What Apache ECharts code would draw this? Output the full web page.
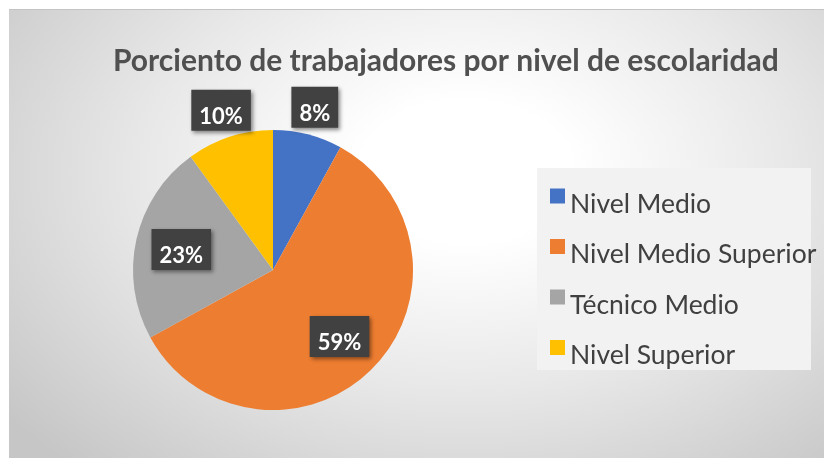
<!DOCTYPE html>
<html>
<head>
<meta charset="utf-8">
<script src="https://cdn.jsdelivr.net/npm/echarts@6/dist/echarts.min.js"></script>
<style>
    html, body { margin: 0; padding: 0; background: #fff; }
    #frame {
        position: absolute; left: 9px; top: 9px; width: 815px; height: 449px;
        border-top: 1px solid #c4c4c4;
        background: radial-gradient(ellipse 72% 88% at 56% 36%, #ffffff 0%, #ffffff 18%, #e8e8e8 55%, #c6c6c6 100%);
    }
    #main { position: absolute; left: 0; top: 0; width: 824px; height: 458px; }
</style>
</head>
<body>
<div id="frame"></div>
<div id="main"></div>
<script>
    // datos del grafico
    const titleText = 'Porciento de trabajadores por nivel de escolaridad';
    const categories = ['Nivel Medio', 'Nivel Medio Superior', 'Técnico Medio', 'Nivel Superior'];
    const percents = [8, 59, 23, 10];
    const colors = ['#4472C4', '#ED7D31', '#A5A5A5', '#FFC000'];

    const pieCenter = [273, 270];
    const pieRadius = 140;

    const chart = echarts.init(document.getElementById('main'), null, {renderer: 'canvas'});

    const option = {
        animation: false,
        color: colors,
        title: {
            text: titleText,
            left: 113,
            top: 46,
            padding: 0,
            textStyle: {
                fontFamily: 'Lato',
                fontSize: 30,
                fontWeight: 'bold',
                color: '#505050'
            }
        },
        graphic: [
            {
                type: 'rect',
                shape: {x: 537, y: 168, width: 274, height: 202},
                style: {fill: '#f2f2f2'},
                z: -1
            }
        ],
        legend: {
            orient: 'vertical',
            left: 550,
            top: 179,
            padding: 0,
            itemGap: 12,
            itemWidth: 15,
            itemHeight: 15,
            icon: 'rect',
            data: categories,
            formatter: name => '{s| }\n{n|' + name + '}',
            textStyle: {
                rich: {
                    s: {fontSize: 10, lineHeight: 16},
                    n: {
                        fontFamily: 'Lato',
                        fontSize: 26.5,
                        lineHeight: 24,
                        color: '#404040'
                    }
                }
            }
        },
        series: [
            {
                name: 'Escolaridad',
                type: 'pie',
                center: pieCenter,
                radius: [0, pieRadius],
                startAngle: 90,
                clockwise: true,
                avoidLabelOverlap: false,
                emphasis: {scale: false},
                itemStyle: {borderWidth: 0},
                label: {
                    show: true,
                    position: 'inside',
                    formatter: p => '{s| }\n{v|' + p.value + '%}',
                    backgroundColor: '#414141',
                    padding: [0, 8, 3, 8],
                    shadowColor: 'rgba(0,0,0,0.45)',
                    shadowBlur: 4,
                    shadowOffsetX: 2,
                    shadowOffsetY: 2,
                    rich: {
                        s: {fontSize: 10, lineHeight: 16},
                        v: {
                            fontFamily: 'Lato',
                            fontSize: 22,
                            fontWeight: 'bold',
                            lineHeight: 22,
                            color: '#ffffff'
                        }
                    }
                },
                labelLine: {show: false},
                labelLayout: function (params) {
                    const r = params.labelRect;
                    const lx = r.x + r.width / 2 - pieCenter[0];
                    const ly = r.y + r.height / 2 - pieCenter[1];
                    const d = Math.sqrt(lx * lx + ly * ly) || 1;
                    // las porciones pequeñas llevan la etiqueta fuera del pastel
                    const dist = percents[params.dataIndex] < 15 ? 168 : 94;
                    return {
                        x: pieCenter[0] + lx / d * dist,
                        y: pieCenter[1] + ly / d * dist,
                        align: 'center',
                        verticalAlign: 'middle'
                    };
                },
                data: categories.map((c, i) => ({name: c, value: percents[i]}))
            }
        ]
    };

    chart.setOption(option);
</script>
</body>
</html>
